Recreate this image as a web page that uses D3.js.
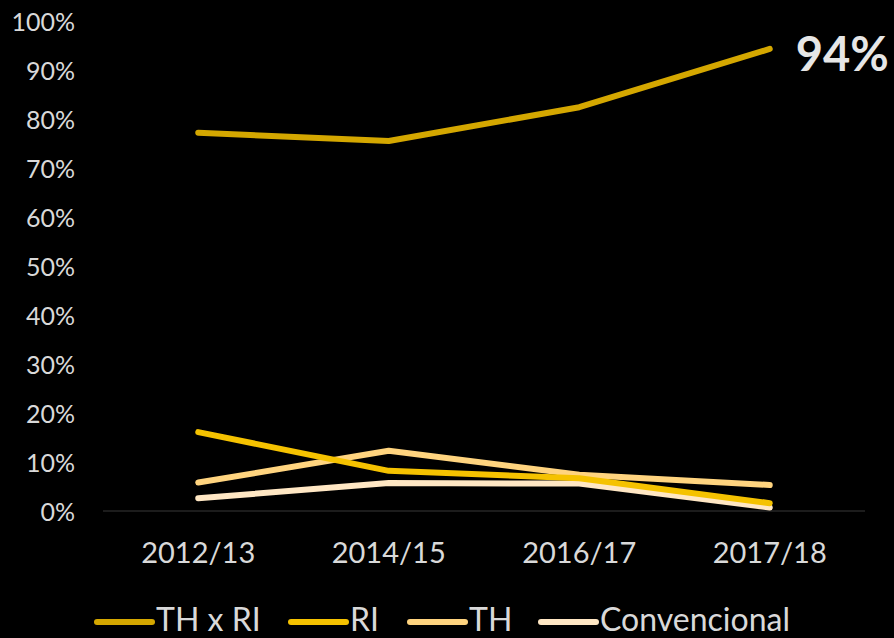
<!DOCTYPE html>
<html>
<head>
<meta charset="utf-8">
<script src="https://cdn.jsdelivr.net/npm/d3@7"></script>
<style>
  html, body { margin: 0; padding: 0; background: #000; }
  svg { display: block; font-family: Lato, 'Open Sans', sans-serif; }
</style>
</head>
<body>
<script>
'use strict';

var years = ['2012/13', '2014/15', '2016/17', '2017/18'];
var seriesNames = ['TH x RI', 'RI', 'TH', 'Convencional'];
var thxri = [77.2, 75.5, 82.4, 94.3];
var ri = [16.1, 8.2, 6.7, 1.6];
var th = [5.8, 12.3, 7.4, 5.3];
var conv = [2.6, 5.7, 5.6, 0.7];
var yTicks = [0, 10, 20, 30, 40, 50, 60, 70, 80, 90, 100];
var colors = ['#d4a700', '#f5c200', '#ffd47f', '#ffe7c4'];

var w = 894,
    h = 638;

var svg = d3.select('body')
    .append('svg')
    .attr('width', w)
    .attr('height', h);

var x = d3.scaleBand()
    .domain(years)
    .range([103, 865]);

var y = d3.scaleLinear()
    .domain([0, 100])
    .range([511, 21]);

/* y axis labels */
svg.append('g')
    .attr('transform', 'translate(75,0)')
    .call(d3.axisLeft(y).tickValues(yTicks).tickSize(0).tickPadding(0)
        .tickFormat(function(d) { return d + '%'; }))
    .call(function(g) {
        g.attr('font-family', null).attr('font-size', null);
        g.select('.domain').remove();
        g.selectAll('text')
            .attr('fill', '#d9d9d9')
            .attr('font-size', '25px')
            .attr('dy', '0.36em');
    });

/* baseline */
svg.append('line')
    .attr('x1', 103)
    .attr('x2', 865)
    .attr('y1', y(0))
    .attr('y2', y(0))
    .attr('stroke', '#262626')
    .attr('stroke-width', 1.5);

/* x axis labels */
svg.append('g')
    .attr('transform', 'translate(0,' + y(0) + ')')
    .call(d3.axisBottom(x).tickSize(0).tickPadding(0))
    .call(function(g) {
        g.attr('font-family', null).attr('font-size', null);
        g.select('.domain').remove();
        g.selectAll('text')
            .attr('fill', '#d9d9d9')
            .attr('font-size', '29px')
            .attr('y', 42)
            .attr('dy', '0.36em');
    });

var series = [thxri, ri, th, conv];

var line = d3.line()
    .x(function(d, i) { return x(years[i]) + x.bandwidth() / 2; })
    .y(function(d) { return y(d); });

/* draw lower series first so TH x RI sits on top like the original */
svg.selectAll('path.series')
    .data(series.slice().reverse())
    .enter()
    .append('path')
    .attr('class', 'series')
    .attr('d', line)
    .attr('fill', 'none')
    .attr('stroke', function(d, i) { return colors[series.length - 1 - i]; })
    .attr('stroke-width', 6)
    .attr('stroke-linecap', 'round')
    .attr('stroke-linejoin', 'round');

/* end label */
svg.append('text')
    .attr('x', x(years[3]) + x.bandwidth() / 2 + 26)
    .attr('y', 71)
    .attr('fill', '#e6e6e6')
    .attr('font-size', '47px')
    .attr('font-weight', 'bold')
    .text(Math.round(thxri[3]) + '%');

/* legend */
var legendX = [97, 291, 410, 541];
var legend = svg.selectAll('g.legend')
    .data(seriesNames)
    .enter()
    .append('g')
    .attr('class', 'legend')
    .attr('transform', function(d, i) { return 'translate(' + legendX[i] + ',622)'; });

legend.append('line')
    .attr('x1', 0)
    .attr('x2', 55)
    .attr('stroke', function(d, i) { return colors[i]; })
    .attr('stroke-width', 6)
    .attr('stroke-linecap', 'round');

legend.append('text')
    .attr('x', 59)
    .attr('y', 9)
    .attr('fill', '#d9d9d9')
    .attr('font-size', '32px')
    .text(function(d) { return d; });
</script>
</body>
</html>
